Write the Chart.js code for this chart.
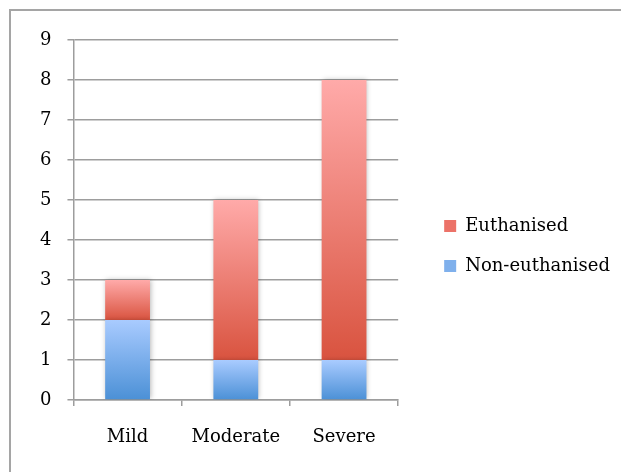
<!DOCTYPE html>
<html>
<head>
<meta charset="utf-8">
<script src="https://cdn.jsdelivr.net/npm/chart.js@4"></script>
<style>
  html,body{margin:0;padding:0;background:#fff;overflow:hidden;width:621px;height:472px}
  #frame{position:absolute;left:9px;top:9px;width:700px;height:600px;border:2px solid #a5a5a5}
  #wrap{position:absolute;left:0;top:0;width:640px;height:480px}
</style>
</head>
<body>
<div id="frame"></div>
<div id="wrap"><canvas id="c"></canvas></div>
<script>
// severity groups and counts per outcome
const categories = ['Mild', 'Moderate', 'Severe'];
const nonEuthanised = [2, 1, 1];
const euthanised = [1, 4, 7];
const yTicks = [0, 1, 2, 3, 4, 5, 6, 7, 8, 9];

const FONT = {family: '"DejaVu Serif", serif', size: 18};
const GRID = '#9d9d9d';
const SWATCH = ['#7fb0ec', '#ec7268'];

// vertical gradient per stacked segment, light at top, dark at bottom
function segFill(top, bottom, solid){
  return function(ctx){
    const chart = ctx.chart, y = chart.scales.y;
    if (ctx.type !== 'data' || !chart.chartArea || !y) return solid;
    const start = ctx.datasetIndex === 0 ? 0 : nonEuthanised[ctx.dataIndex];
    const y0 = y.getPixelForValue(start + ctx.raw), y1 = y.getPixelForValue(start);
    const g = chart.ctx.createLinearGradient(0, y0, 0, y1);
    g.addColorStop(0, top); g.addColorStop(1, bottom);
    return g;
  };
}

const shadow = {
  id: 'barShadow',
  beforeDatasetsDraw(chart){ const c = chart.ctx; c.save(); c.shadowColor = 'rgba(0,0,0,0.28)'; c.shadowBlur = 5; c.shadowOffsetX = 1; c.shadowOffsetY = 0; },
  afterDatasetsDraw(chart){ chart.ctx.restore(); }
};

new Chart(document.getElementById('c'), {
  type: 'bar',
  data: {
    labels: categories,
    datasets: [
      {label: 'Non-euthanised', data: nonEuthanised, backgroundColor: segFill('#a9cbff', '#4b90d6', SWATCH[0]), borderWidth: 0},
      {label: 'Euthanised', data: euthanised, backgroundColor: segFill('#ffaaa9', '#d9533f', SWATCH[1]), borderWidth: 0}
    ]
  },
  options: {
    responsive: true, maintainAspectRatio: false, animation: false,
    layout: {padding: {left: 24, top: 40, right: 20, bottom: 28}},
    categoryPercentage: 1, barPercentage: 0.414,
    plugins: {
      legend: {position: 'right', reverse: true, maxWidth: 240,
        labels: {boxWidth: 12, boxHeight: 12, padding: 22, color: '#000', font: FONT,
          generateLabels: chart => Chart.defaults.plugins.legend.labels.generateLabels(chart)
            .map(it => Object.assign(it, {fillStyle: SWATCH[it.datasetIndex], strokeStyle: SWATCH[it.datasetIndex], lineWidth: 0}))}},
      tooltip: {enabled: false}
    },
    scales: {
      x: {stacked: true,
        grid: {offset: true, drawOnChartArea: false, drawTicks: true, tickLength: 6, color: GRID, lineWidth: 1.5},
        border: {display: true, color: GRID, width: 1.5},
        ticks: {color: '#000', font: FONT, padding: 21},
        afterFit: s => { s.height = 52; }},
      y: {stacked: true, min: 0, max: 9,
        afterBuildTicks: s => { s.ticks = yTicks.map(v => ({value: v})); },
        grid: {drawTicks: true, tickLength: 6, color: GRID, lineWidth: 1.5},
        border: {display: true, color: GRID, width: 1.5},
        ticks: {color: '#000', font: FONT, padding: 16}},
      gap: {type: 'linear', position: 'right', display: true,
        grid: {display: false}, border: {display: false}, ticks: {display: false},
        afterFit: s => { s.width = 24; }}
    }
  },
  plugins: [shadow]
});
</script>
</body>
</html>
